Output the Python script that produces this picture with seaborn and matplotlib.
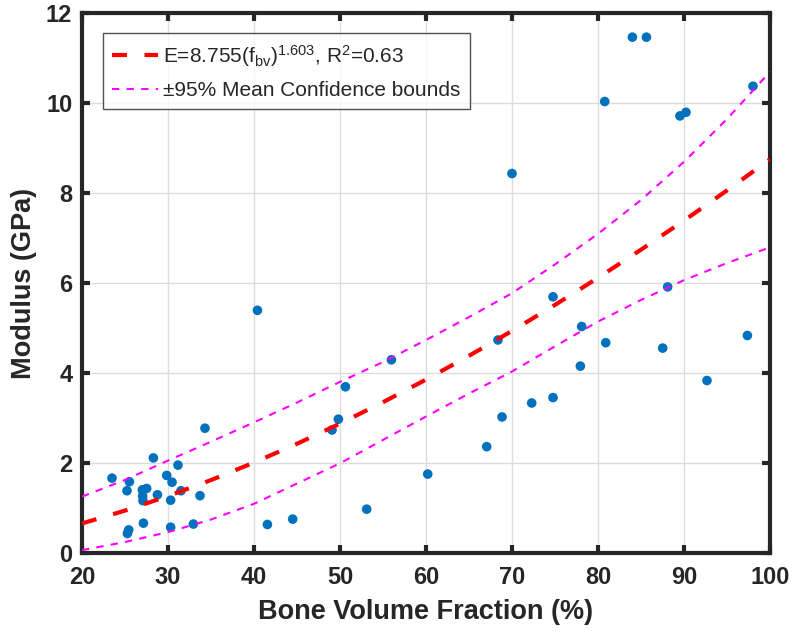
import matplotlib

matplotlib.use("Agg")

import matplotlib.pyplot as plt
import numpy as np
import pandas as pd
import seaborn as sns

# measured samples: bone volume fraction (%) vs modulus (GPa)
bvf = [
    28.30, 31.16, 23.49, 25.51, 29.85, 30.47, 25.23, 27.02, 27.52, 28.77,
    31.51, 33.72, 27.09, 27.05, 30.31, 27.14, 25.43, 25.28, 30.31, 32.95,
    34.30, 40.40, 55.98, 50.63, 49.81, 49.07, 68.37, 68.84, 67.06, 60.20,
    53.10, 44.50, 41.56, 84.00, 85.63, 80.78, 89.53, 90.23, 98.02, 70.00,
    74.77, 88.10, 78.10, 80.90, 87.52, 97.37, 77.95, 92.67, 72.29, 74.77,
]
modulus = [
    2.12, 1.96, 1.67, 1.59, 1.73, 1.58, 1.39, 1.41, 1.44, 1.30,
    1.39, 1.28, 1.17, 1.27, 1.18, 0.67, 0.52, 0.44, 0.58, 0.65,
    2.78, 5.40, 4.30, 3.70, 2.98, 2.74, 4.74, 3.03, 2.37, 1.76,
    0.98, 0.76, 0.64, 11.47, 11.47, 10.04, 9.72, 9.80, 10.38, 8.44,
    5.70, 5.92, 5.04, 4.68, 4.56, 4.84, 4.16, 3.84, 3.34, 3.46,
]

# power-law fit and 95% mean confidence bounds, read at 5% steps
curve_x = [20, 25, 30, 35, 40, 45, 50, 55, 60, 65, 70, 75, 80, 85, 90, 95, 100]
fit_y = [0.663, 0.949, 1.271, 1.627, 2.016, 2.434, 2.882, 3.358, 3.860,
         4.389, 4.942, 5.520, 6.122, 6.747, 7.394, 8.064, 8.755]
upper_y = [1.26, 1.63, 2.06, 2.48, 2.91, 3.35, 3.81, 4.25, 4.74,
           5.25, 5.78, 6.42, 7.10, 7.85, 8.70, 9.65, 10.70]
lower_y = [0.07, 0.25, 0.47, 0.75, 1.10, 1.55, 2.00, 2.52, 3.04,
           3.55, 4.04, 4.60, 5.15, 5.63, 6.07, 6.45, 6.80]

x_ticks = [20, 30, 40, 50, 60, 70, 80, 90, 100]
y_ticks = [0, 2, 4, 6, 8, 10, 12]

fit_label = r"E=8.755(f$_{\mathrm{bv}}$)$^{\mathrm{1.603}}$, R$^{\mathrm{2}}$=0.63"
bound_label = "±95% Mean Confidence bounds"

sns.set_theme(style="ticks")
plt.rcParams["font.family"] = ["Liberation Sans", "DejaVu Sans"]
plt.rcParams["mathtext.fontset"] = "custom"
plt.rcParams["mathtext.rm"] = "Liberation Sans"
plt.rcParams["mathtext.it"] = "Liberation Sans:italic"
plt.rcParams["mathtext.bf"] = "Liberation Sans:bold"

ink = "#262626"

points = pd.DataFrame({"bvf": bvf, "modulus": modulus})
curves = pd.DataFrame({"x": curve_x, "fit": fit_y, "upper": upper_y, "lower": lower_y})

fig = plt.figure(figsize=(7.93, 6.34), dpi=100)
ax = fig.add_axes([0.1034, 0.1273, 0.8676, 0.8517])

sns.scatterplot(data=points, x="bvf", y="modulus", ax=ax, color="#0072BD",
                s=48, edgecolor="none", zorder=3)
sns.lineplot(data=curves, x="x", y="fit", ax=ax, color="#FF0000", linewidth=3,
             linestyle=(0, (3.6, 4.2)), label=fit_label, zorder=4)
sns.lineplot(data=curves, x="x", y="upper", ax=ax, color="#FF00FF", linewidth=1.5,
             linestyle=(0, (3.5, 3.5)), label=bound_label, zorder=4)
sns.lineplot(data=curves, x="x", y="lower", ax=ax, color="#FF00FF", linewidth=1.5,
             linestyle=(0, (3.5, 3.5)), zorder=4)

ax.set_xlim(20, 100)
ax.set_ylim(0, 12)
ax.set_xticks(x_ticks)
ax.set_yticks(y_ticks)
ax.grid(True, color="#dcdcdc", linewidth=1)
ax.set_axisbelow(True)

for side in ["left", "right", "top", "bottom"]:
    ax.spines[side].set_visible(True)
    ax.spines[side].set_linewidth(3)
    ax.spines[side].set_color(ink)

ax.tick_params(axis="both", which="major", direction="in", length=6, width=3,
               color=ink, labelcolor=ink, labelsize=17, top=True, right=True)
ax.tick_params(axis="x", pad=9)
ax.tick_params(axis="y", pad=7)
for label in ax.get_xticklabels() + ax.get_yticklabels():
    label.set_fontweight("bold")

ax.set_xlabel("Bone Volume Fraction (%)", fontsize=19.5, fontweight="bold", color=ink)
ax.set_ylabel("Modulus (GPa)", fontsize=19.5, fontweight="bold", color=ink)
ax.xaxis.set_label_coords(0.5, -0.085)
ax.yaxis.set_label_coords(-0.066, 0.5)

leg = ax.legend(loc="upper left", bbox_to_anchor=(0.0305, 0.963), borderaxespad=0,
                fontsize=15, frameon=True, fancybox=False, handlelength=2.2,
                handletextpad=0.25, borderpad=0.45, labelspacing=0.6)
leg.get_frame().set_edgecolor(ink)
leg.get_frame().set_linewidth(1)
for text in leg.get_texts():
    text.set_color(ink)

fig.savefig("out.png", dpi=100)
